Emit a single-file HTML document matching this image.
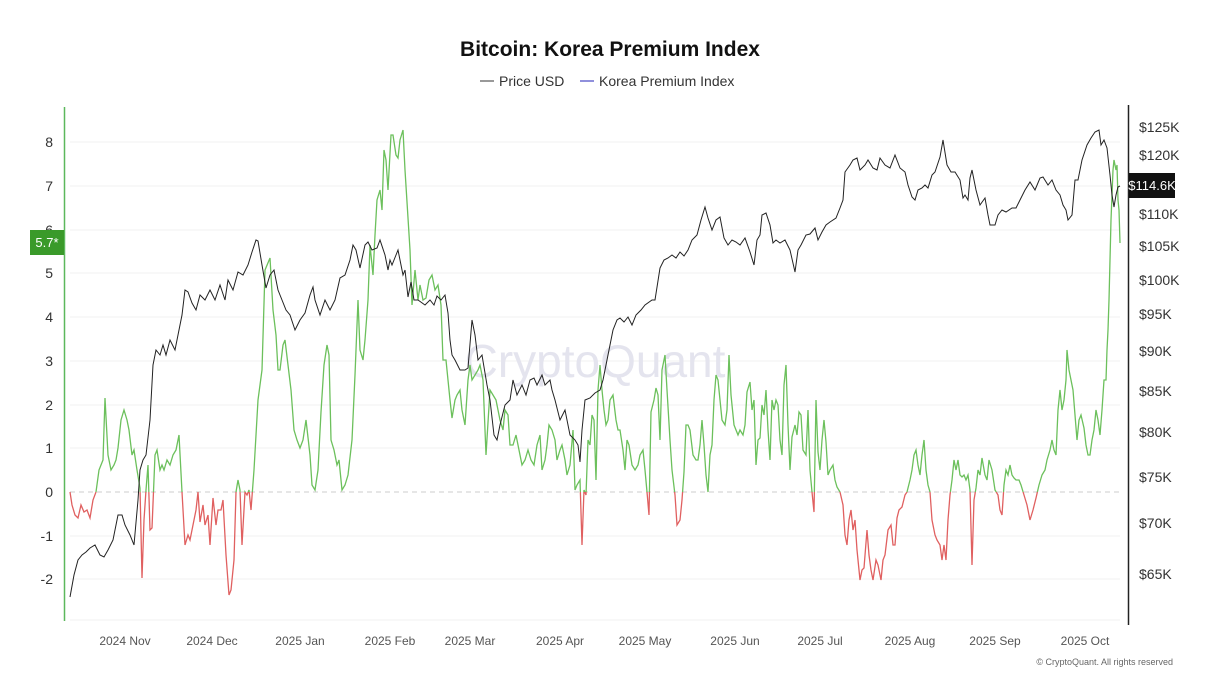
<!DOCTYPE html>
<html><head><meta charset="utf-8"><style>
body{margin:0;background:#fff;width:1225px;height:689px;overflow:hidden;font-family:"Liberation Sans",sans-serif}
</style></head><body>
<svg width="1225" height="689" xmlns="http://www.w3.org/2000/svg" font-family="Liberation Sans, sans-serif">
<text x="610" y="56" text-anchor="middle" font-size="21" font-weight="bold" fill="#111">Bitcoin: Korea Premium Index</text>
<line x1="480" y1="81" x2="494" y2="81" stroke="#333" stroke-width="1"/>
<text x="499" y="86" font-size="14" fill="#333">Price USD</text>
<line x1="580" y1="81" x2="594" y2="81" stroke="#6a6ad0" stroke-width="1.5"/>
<text x="599" y="86" font-size="14" fill="#333">Korea Premium Index</text>
<g stroke="#f0f0f0" stroke-width="1">
<line x1="70" y1="142" x2="1120" y2="142"/><line x1="70" y1="186" x2="1120" y2="186"/><line x1="70" y1="230" x2="1120" y2="230"/><line x1="70" y1="273" x2="1120" y2="273"/><line x1="70" y1="317" x2="1120" y2="317"/><line x1="70" y1="361" x2="1120" y2="361"/><line x1="70" y1="405" x2="1120" y2="405"/><line x1="70" y1="448" x2="1120" y2="448"/><line x1="70" y1="536" x2="1120" y2="536"/><line x1="70" y1="579" x2="1120" y2="579"/><line x1="70" y1="620" x2="1120" y2="620"/>
</g>
<line x1="70" y1="492" x2="1120" y2="492" stroke="#ccc" stroke-dasharray="5,4"/>
<text x="595" y="377" text-anchor="middle" font-size="46" fill="#e4e4ee">CryptoQuant</text>
<line x1="64.5" y1="107" x2="64.5" y2="621" stroke="#5cb85c" stroke-width="1.5"/>
<line x1="1128.5" y1="105" x2="1128.5" y2="625" stroke="#222" stroke-width="1.5"/>
<g font-size="14" fill="#333" text-anchor="end">
<text x="53" y="147">8</text><text x="53" y="191">7</text><text x="53" y="235">6</text><text x="53" y="278">5</text><text x="53" y="322">4</text><text x="53" y="366">3</text><text x="53" y="410">2</text><text x="53" y="453">1</text><text x="53" y="497">0</text><text x="53" y="541">-1</text><text x="53" y="584">-2</text>
</g>
<rect x="30" y="230" width="34" height="25" fill="#3a9a2a"/>
<text x="47" y="247" text-anchor="middle" font-size="13" fill="#fff">5.7*</text>
<g font-size="14" fill="#333">
<text x="1139" y="132">$125K</text><text x="1139" y="160">$120K</text><text x="1139" y="219">$110K</text><text x="1139" y="251">$105K</text><text x="1139" y="285">$100K</text><text x="1139" y="319">$95K</text><text x="1139" y="356">$90K</text><text x="1139" y="396">$85K</text><text x="1139" y="437">$80K</text><text x="1139" y="482">$75K</text><text x="1139" y="528">$70K</text><text x="1139" y="579">$65K</text>
</g>
<rect x="1129" y="173" width="46" height="25" fill="#111"/>
<text x="1152" y="190" text-anchor="middle" font-size="13" fill="#fff">$114.6K</text>
<g font-size="12" fill="#555" text-anchor="middle">
<text x="125" y="645">2024 Nov</text><text x="212" y="645">2024 Dec</text><text x="300" y="645">2025 Jan</text><text x="390" y="645">2025 Feb</text><text x="470" y="645">2025 Mar</text><text x="560" y="645">2025 Apr</text><text x="645" y="645">2025 May</text><text x="735" y="645">2025 Jun</text><text x="820" y="645">2025 Jul</text><text x="910" y="645">2025 Aug</text><text x="995" y="645">2025 Sep</text><text x="1085" y="645">2025 Oct</text>
</g>
<text x="1173" y="665" text-anchor="end" font-size="9" fill="#666">© CryptoQuant. All rights reserved</text>
<defs>
<clipPath id="neg"><rect x="60" y="492" width="1080" height="200"/></clipPath>
<clipPath id="pos"><rect x="60" y="100" width="1080" height="392"/></clipPath>
<polyline id="kp" fill="none" stroke-width="1.3" points="70,492 72,505 75,515 78,518 81,505 84,512 87,510 90,518 93,500 96,492 99,470 101,465 103,460 105,398 108,455 111,470 114,465 116,460 118,448 121,420 124,410 127,420 129,430 132,455 134,450 137,470 140,488 142,578 144,520 146,490 148,465 150,530 152,528 155,455 157,450 160,470 162,465 164,470 167,460 170,465 173,455 176,450 179,435 182,492 185,545 188,535 190,540 193,525 196,510 198,492 200,522 203,505 205,525 208,515 210,545 213,498 216,525 218,510 221,510 223,500 226,555 229,595 231,590 234,560 236,492 238,480 240,490 242,545 245,492 247,495 249,490 251,510 254,470 258,400 262,370 265,270 270,258 273,310 276,335 278,370 280,370 283,345 285,340 288,365 291,390 294,430 297,440 300,448 303,440 306,420 310,455 312,485 315,490 318,470 321,412 324,365 327,345 329,355 331,440 334,450 337,465 339,460 342,490 345,485 348,475 352,440 355,375 358,300 360,350 363,360 365,340 368,300 370,245 373,275 375,235 377,200 380,190 382,210 384,150 386,160 388,190 391,135 393,135 396,155 398,158 400,140 403,130 405,170 410,250 412,305 415,270 418,300 420,285 423,300 426,298 429,280 432,275 435,290 438,285 441,305 443,360 446,360 450,400 452,418 455,400 457,395 460,390 462,410 465,425 468,380 470,365 472,380 475,375 478,370 480,365 483,380 486,455 490,390 493,395 496,400 500,420 503,430 505,410 508,415 510,445 513,445 516,435 519,450 522,465 525,460 528,450 531,460 534,465 537,445 540,435 542,470 545,460 547,445 549,425 552,430 555,440 557,460 560,450 562,445 565,460 567,475 570,465 573,430 575,490 577,485 580,480 582,545 584,490 586,495 588,440 590,445 592,415 594,420 596,480 598,390 600,365 602,390 604,410 606,425 608,420 610,400 613,395 616,420 618,430 620,430 623,450 625,470 627,440 629,445 632,465 635,470 638,465 640,455 643,450 645,470 647,492 649,515 651,412 654,400 656,388 658,395 660,440 662,370 665,355 667,390 670,440 672,470 675,495 677,525 680,520 682,500 684,472 686,425 688,425 690,430 693,455 696,460 698,460 700,445 702,420 704,445 706,475 708,492 710,455 712,445 714,400 716,375 718,380 720,400 722,420 725,425 727,410 729,355 731,395 734,425 736,430 738,435 740,430 743,435 745,425 747,392 750,382 752,410 754,400 756,465 758,440 760,438 762,405 764,415 766,390 768,430 770,460 772,400 774,410 776,400 778,405 780,440 782,455 784,385 786,365 788,425 790,470 792,437 795,425 797,435 799,412 801,415 803,450 806,455 808,410 810,470 812,492 814,512 816,400 818,452 820,470 822,440 824,420 826,442 828,475 830,470 833,465 835,480 837,487 840,492 843,505 845,535 847,545 849,520 851,510 853,530 855,520 857,550 860,580 862,570 864,568 867,530 869,555 871,570 873,580 876,560 878,565 881,580 883,560 885,555 888,530 891,525 893,545 895,545 897,518 899,510 902,507 905,495 907,492 910,480 912,470 914,455 916,450 918,465 920,475 922,455 924,440 926,470 928,485 930,492 932,520 935,535 937,540 940,545 942,560 944,545 946,560 948,520 950,495 952,480 954,460 956,470 958,460 960,475 962,477 964,475 966,480 968,475 970,490 972,565 974,500 976,488 978,470 980,475 982,458 985,475 987,480 989,460 992,470 995,490 998,495 1000,510 1002,515 1004,485 1006,470 1008,475 1010,465 1012,475 1014,478 1016,480 1019,480 1021,485 1024,495 1027,505 1030,520 1033,510 1036,498 1039,485 1042,475 1045,470 1047,460 1050,450 1052,440 1054,450 1056,455 1058,410 1060,390 1062,410 1064,400 1066,380 1067,350 1069,370 1071,380 1073,390 1075,415 1077,440 1079,420 1081,415 1084,428 1086,445 1088,455 1090,455 1092,440 1094,430 1096,410 1098,420 1100,435 1102,410 1104,380 1106,380 1107,350 1108,330 1109,300 1110,260 1111,220 1113,170 1114,160 1116,170 1117,165 1118,200 1119,210 1120,243"/>
</defs>
<use href="#kp" stroke="#6cc05c" clip-path="url(#pos)"/>
<use href="#kp" stroke="#e06060" clip-path="url(#neg)"/>
<polyline fill="none" stroke="#222" stroke-width="1" points="70,597 74,575 78,560 82,555 86,552 90,548 95,545 100,555 104,557 108,550 113,540 118,515 122,515 125,525 130,535 134,545 138,500 140,470 143,460 146,455 150,420 153,365 156,350 160,355 163,345 166,355 170,340 175,350 178,335 182,315 185,290 188,292 192,303 196,310 200,295 205,300 210,290 215,300 220,285 225,300 228,280 233,290 238,272 243,275 248,265 252,252 256,240 258,241 262,265 266,288 270,275 274,270 278,290 282,300 286,310 290,315 295,330 300,320 305,313 310,295 313,287 315,300 320,315 325,300 330,310 335,300 340,278 345,275 350,260 353,245 356,250 360,268 365,245 368,242 372,250 377,248 380,240 385,255 388,270 390,260 392,265 396,255 398,250 400,260 403,275 405,270 408,297 411,282 414,300 418,300 425,305 430,300 434,305 437,296 441,300 445,295 448,313 450,340 452,355 455,360 460,370 465,370 468,368 472,320 475,335 478,360 482,355 487,385 490,400 494,435 497,440 500,425 505,405 510,400 513,380 517,395 522,385 526,395 530,380 534,378 537,385 542,375 545,385 550,380 552,390 555,400 560,420 565,410 570,435 575,440 578,445 580,462 582,430 585,400 590,398 595,393 600,390 603,380 607,360 613,330 617,320 620,318 624,322 628,317 632,325 636,315 641,310 645,305 652,300 655,300 660,268 664,260 668,258 672,255 676,258 680,252 684,256 688,250 692,240 697,235 701,220 705,207 708,218 712,230 716,220 720,217 724,238 728,245 732,240 736,242 740,245 745,238 750,252 754,265 757,240 760,235 762,215 766,213 770,225 773,243 776,240 780,243 785,240 790,250 795,272 798,250 801,245 806,235 810,234 815,228 818,240 822,232 826,225 830,222 836,218 840,208 843,200 845,172 850,165 853,160 857,158 860,170 865,165 868,160 873,168 877,170 880,158 885,165 890,168 895,155 900,168 905,172 908,185 912,197 915,200 918,190 922,188 925,185 928,188 932,175 935,172 940,157 943,140 947,165 951,172 955,172 960,180 963,198 965,195 968,200 970,178 972,170 976,190 980,205 985,198 988,215 990,225 995,225 998,215 1002,210 1006,212 1012,208 1016,208 1020,200 1025,190 1030,182 1035,190 1040,178 1043,177 1048,185 1052,180 1056,190 1060,195 1063,205 1066,210 1068,220 1072,215 1075,180 1078,180 1082,160 1087,145 1091,138 1095,132 1099,130 1101,145 1104,140 1107,148 1110,175 1112,195 1114,207 1116,195 1118,187 1120,186"/>
</svg>
</body></html>
